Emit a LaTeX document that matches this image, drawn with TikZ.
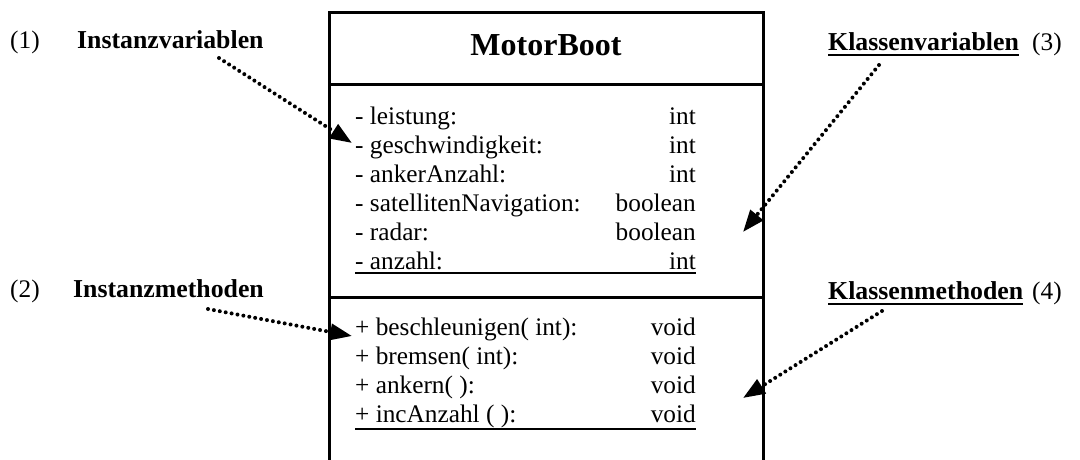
\documentclass[tikz,border=0pt]{standalone}
\usepackage{fontspec}
\setmainfont{Liberation Serif}
\usetikzlibrary{arrows.meta}
\begin{document}
\begin{tikzpicture}[x=1pt,y=-1pt,
  frame/.style={line width=3pt, line join=miter},
  row/.style={inner sep=0pt, font=\fontsize{25.3}{29}\selectfont},
  lbl/.style={inner sep=0pt, font=\fontsize{25.8}{30}\selectfont\bfseries},
  num/.style={inner sep=0pt, font=\fontsize{25.3}{29}\selectfont},
  pointer/.style={line width=4pt, line cap=round, dash pattern=on 0pt off 6pt,
                  -{Triangle[length=22pt,width=16pt]}},
  uline/.style={line width=2.2pt}]
\useasboundingbox (0,0) rectangle (1080,459);
\clip (0,0) rectangle (1080,459);

% class frame, open towards the bottom
\draw[frame] (329,470) -- (329,12) -- (763,12) -- (763,470);
\draw[frame] (329,84) -- (763,84);
\draw[frame] (329,297) -- (763,297);

\node[inner sep=0pt, anchor=base, font=\fontsize{32}{36}\selectfont\bfseries] (title) at (546,55) {MotorBoot};

% attributes
\foreach \n/\t [count=\i] in {- leistung:/int, - geschwindigkeit:/int, - ankerAnzahl:/int,
    - satellitenNavigation:/boolean, - radar:/boolean, - anzahl:/int} {
  \node[row, anchor=base west] (attr\i) at (355,{124+29*(\i-1)}) {\n};
  \node[row, anchor=base east] (atype\i) at (696,{124+29*(\i-1)}) {\t};
}
\draw[uline] (355,273) -- (696,273);

% methods
\foreach \n/\t [count=\i] in {+ beschleunigen( int):/void, + bremsen( int):/void,
    + ankern( ):/void, + incAnzahl ( ):/void} {
  \node[row, anchor=base west] (meth\i) at (355,{335+29.3*(\i-1)}) {\n};
  \node[row, anchor=base east] (mtype\i) at (696,{335+29.3*(\i-1)}) {\t};
}
\draw[uline] (355,429) -- (696,429);

% annotations
\node[num, anchor=base west] (n1) at (10,48) {(1)};
\node[lbl, anchor=base west] (l1) at (77,48) {Instanzvariablen};
\node[num, anchor=base west] (n2) at (10,297) {(2)};
\node[lbl, anchor=base west] (l2) at (73,297) {Instanzmethoden};
\node[lbl, anchor=base west] (l3) at (828,50) {Klassenvariablen};
\node[num, anchor=base west] (n3) at (1032,50) {(3)};
\node[lbl, anchor=base west] (l4) at (828,299) {Klassenmethoden};
\node[num, anchor=base west] (n4) at (1032,299) {(4)};
\draw[uline] ([yshift=-5pt]l3.base west) -- ([yshift=-5pt]l3.base east);
\draw[uline] ([yshift=-5pt]l4.base west) -- ([yshift=-5pt]l4.base east);

% pointers
\coordinate (s1) at (219,58);  \coordinate (t1) at (352,143);
\coordinate (s2) at (208,309); \coordinate (t2) at (352,336);
\coordinate (s3) at (879,65);  \coordinate (t3) at (743,232);
\coordinate (s4) at (882,311); \coordinate (t4) at (743,398);
\draw[pointer] (s1) -- (t1);
\draw[pointer] (s2) -- (t2);
\draw[pointer] (s3) -- (t3);
\draw[pointer] (s4) -- (t4);
\end{tikzpicture}
\end{document}
